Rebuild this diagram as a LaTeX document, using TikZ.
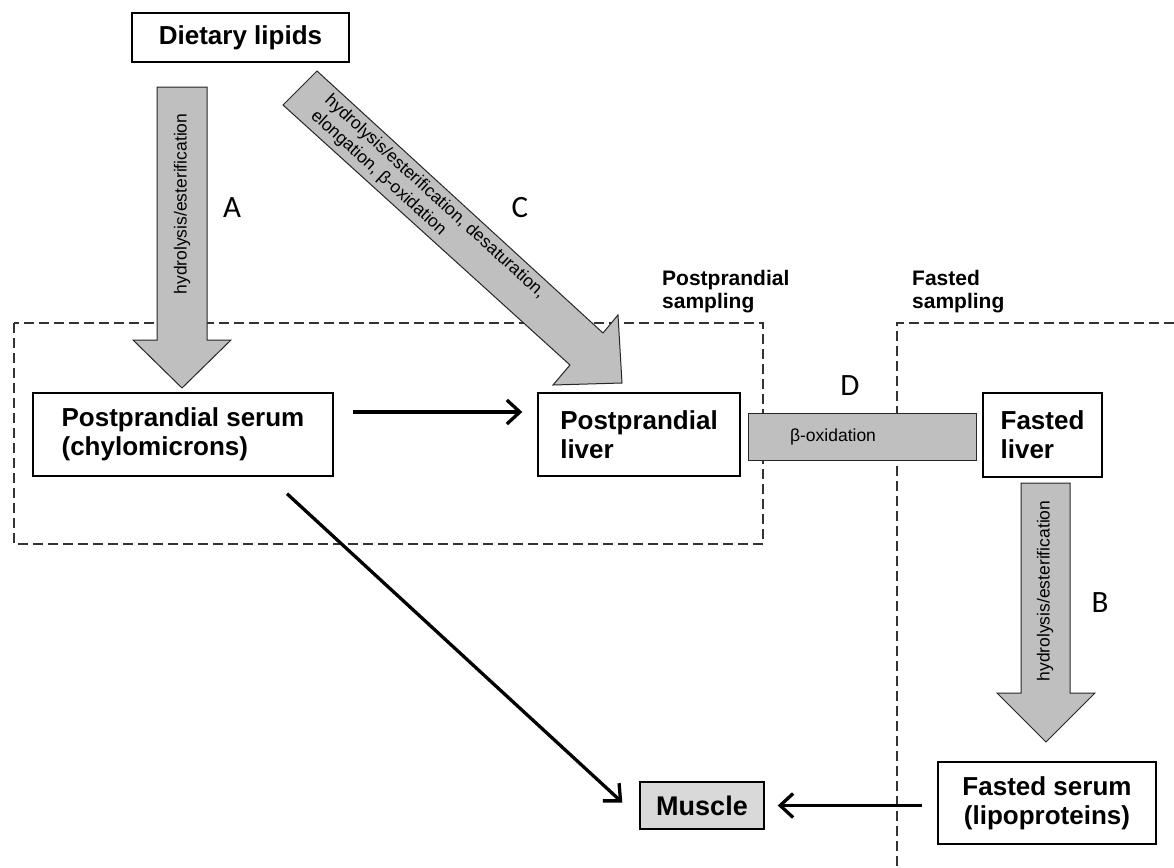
\documentclass[tikz,border=0pt]{standalone}
\usepackage{fontspec}
\setmainfont{Liberation Sans}
\newfontfamily\calib{Carlito}
\usetikzlibrary{arrows.meta,calc}
\definecolor{arrgray}{HTML}{BFBFBF}
\definecolor{musclegray}{HTML}{D9D9D9}
\tikzset{
  box/.style={draw=black, line width=1.4pt, fill=white, inner sep=0pt, align=left,
    font=\fontsize{26}{29}\selectfont\bfseries},
  blockarrow/.style={draw=black!85, line width=1pt, fill=arrgray, line join=miter},
  smalltext/.style={inner sep=0pt, font=\fontsize{17.5}{20.5}\selectfont},
  letter/.style={inner sep=0pt, font=\fontsize{31}{31}\selectfont\calib},
  samplabel/.style={inner sep=0pt, align=left, anchor=north west, font=\fontsize{21}{23.5}\selectfont\bfseries},
  region/.style={draw=black!80, line width=1.2pt, dash pattern=on 10pt off 5pt},
  conn/.style={draw=black, line width=3.3pt, -{Straight Barb[length=13pt,width=24pt]}}
}
\begin{document}
\begin{tikzpicture}[x=1pt,y=-1pt]
\useasboundingbox (0,0) rectangle (1174,867);

% dashed sampling regions
\draw[region] (14,323) rectangle (763,544);
\draw[region] (1174,323) -- (897,323) -- (897,867);
\node[samplabel] (pslab) at (662,270) {Postprandial\\sampling};
\node[samplabel] (fslab) at (912,270) {Fasted\\sampling};

% boxes
\node[box, minimum width=217pt, minimum height=49pt] (diet) at (240.5,37.5) {Dietary lipids};
\node[box, minimum width=300pt, minimum height=83pt] (serum) at (183,434.5) {Postprandial serum\\(chylomicrons)};
\node[box, minimum width=202pt, minimum height=83pt] (pliver) at (639,434.5) {Postprandial\\liver};
\node[box, minimum width=119pt, minimum height=84pt] (fliver) at (1042.5,435) {Fasted\\liver};
\node[box, align=center, minimum width=218pt, minimum height=82pt] (fserum) at (1047,803) {Fasted serum\\(lipoproteins)};
\node[box, fill=musclegray, minimum width=124pt, minimum height=47pt, font=\fontsize{27}{30}\selectfont\bfseries] (muscle) at (702,805.5) {Muscle};

% block arrow A
\draw[blockarrow] (157,87) -- (207,87) -- (207,340) -- (231,340) -- (182,388) -- (133,340) -- (157,340) -- cycle;
\node[smalltext, rotate=90] (atext) at (182,204) {hydrolysis/esterification};
\node[letter] (la) at (232,208) {A};

% block arrow C
\draw[blockarrow] (317,71) -- (603,333) -- (618,315) -- (622,383) -- (553,385) -- (570,365) -- (283,105) -- cycle;
\node[smalltext, rotate=-42.4, anchor=west, align=left] (ctext) at (320,106) {hydrolysis/esterification, desaturation,\\elongation, β-oxidation};
\node[letter] (lc) at (520,208) {C};

% block D
\draw[blockarrow] (748,413) rectangle (976,460);
\node[smalltext] (dtext) at (833,437) {β-oxidation};
\node[letter] (ld) at (850,386) {D};

% block arrow B
\draw[blockarrow] (1021,483) -- (1070,483) -- (1070,693) -- (1095,693) -- (1046,742) -- (997,693) -- (1021,693) -- cycle;
\node[smalltext, rotate=90] (btext) at (1045,591) {hydrolysis/esterification};
\node[letter] (lb) at (1100,603) {B};

% connectors
\draw[conn] ([xshift=19pt,yshift=22.5pt]serum.east) -- ([xshift=-15pt,yshift=22.5pt]pliver.west);
\draw[conn] ([xshift=104pt,yshift=-17pt]serum.south) -- ([xshift=-17pt,yshift=3pt]muscle.west);
\draw[conn] ([xshift=-15pt,yshift=-2.5pt]fserum.west) -- ([xshift=13pt]muscle.east);
\end{tikzpicture}
\end{document}
